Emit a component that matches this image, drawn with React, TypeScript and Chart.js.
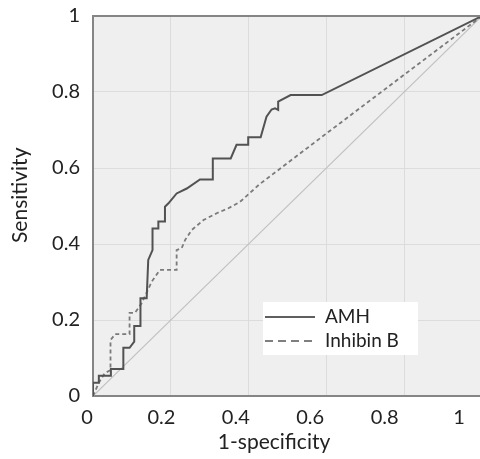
import React, { useEffect, useRef } from "react";
import { Chart, registerables } from "chart.js";

Chart.register(...registerables);

// ROC curve points: false positive rate (1-specificity) and sensitivity
const amhFpr = [0, 0, 0.015, 0.015, 0.046, 0.046, 0.078, 0.078, 0.094, 0.106, 0.106, 0.122, 0.122, 0.138, 0.142, 0.153, 0.153, 0.168, 0.168, 0.185, 0.185, 0.194, 0.215, 0.241, 0.275, 0.308, 0.308, 0.354, 0.369, 0.399, 0.399, 0.431, 0.446, 0.459, 0.468, 0.476, 0.476, 0.508, 0.588, 1];
const amhSens = [0, 0.035, 0.035, 0.053, 0.053, 0.071, 0.071, 0.127, 0.127, 0.143, 0.184, 0.184, 0.257, 0.257, 0.358, 0.384, 0.441, 0.441, 0.459, 0.459, 0.498, 0.507, 0.533, 0.546, 0.57, 0.57, 0.625, 0.625, 0.661, 0.661, 0.681, 0.681, 0.735, 0.754, 0.757, 0.753, 0.775, 0.792, 0.792, 1];

const inhFpr = [0, 0.015, 0.03, 0.045, 0.045, 0.057, 0.094, 0.094, 0.108, 0.125, 0.151, 0.172, 0.215, 0.215, 0.228, 0.237, 0.254, 0.284, 0.318, 0.348, 0.378, 0.429, 0.635, 1];
const inhSens = [0, 0.035, 0.06, 0.068, 0.147, 0.163, 0.163, 0.219, 0.219, 0.244, 0.301, 0.332, 0.332, 0.384, 0.389, 0.411, 0.437, 0.463, 0.481, 0.494, 0.511, 0.558, 0.718, 1];

const refFpr = [0, 1];
const refSens = [0, 1];

const seriesLabels = ["AMH", "Inhibin B"];
const tickValues = [0, 0.2, 0.4, 0.6, 0.8, 1];
const xTitle = "1-specificity";
const yTitle = "Sensitivity";

const FONT = "Lato";
const TEXT = "#222222";

const toPoints = (xs: number[], ys: number[]) => xs.map((x, i) => ({ x, y: ys[i] }));
const fmt = (v: number) => (Math.round(v * 10) / 10).toString();

const bgPlugin = {
  id: "plotBg",
  beforeDraw(chart: any) {
    const { ctx, chartArea: a } = chart;
    ctx.save();
    ctx.fillStyle = "#efefef";
    ctx.fillRect(a.left, a.top, a.right - a.left, a.bottom - a.top);
    ctx.restore();
  },
  afterDraw(chart: any) {
    const { ctx, chartArea: a } = chart;
    ctx.save();
    ctx.strokeStyle = "#858585";
    ctx.lineWidth = 2;
    ctx.beginPath();
    ctx.moveTo(a.left - 1, a.top);
    ctx.lineTo(a.right, a.top);
    ctx.stroke();
    ctx.restore();
  },
};

const legendPlugin = {
  id: "rocLegend",
  afterDatasetsDraw(chart: any) {
    const { ctx, chartArea: a } = chart;
    const bx = a.left + 170;
    const by = a.top + 286;
    ctx.save();
    ctx.fillStyle = "#ffffff";
    ctx.fillRect(bx, by, 155, 53);
    const items = chart.data.datasets.filter((d: any) => seriesLabels.includes(d.label));
    items.forEach((d: any, i: number) => {
      const cy = by + 15 + i * 24;
      ctx.strokeStyle = i === 0 ? "#2a2a2a" : "#555555";
      ctx.lineWidth = 1.6;
      ctx.setLineDash(i === 0 ? [] : [8, 5]);
      ctx.beginPath();
      ctx.moveTo(bx + 2, cy);
      ctx.lineTo(bx + 52, cy);
      ctx.stroke();
      ctx.setLineDash([]);
      ctx.fillStyle = TEXT;
      ctx.font = `19px ${FONT}`;
      ctx.textBaseline = "middle";
      ctx.textAlign = "left";
      ctx.fillText(d.label, bx + 62, cy);
    });
    ctx.restore();
  },
};

export default function App() {
  const ref = useRef<HTMLCanvasElement | null>(null);

  useEffect(() => {
    if (!ref.current) return;
    const setTicks = (axis: any) => {
      axis.ticks = tickValues.map((v) => ({ value: v }));
    };
    const chart = new Chart(ref.current, {
      type: "line",
      data: {
        datasets: [
          {
            label: seriesLabels[0],
            data: toPoints(amhFpr, amhSens),
            borderColor: "#525252",
            borderWidth: 2,
            pointRadius: 0,
            tension: 0,
            fill: false,
          },
          {
            label: seriesLabels[1],
            data: toPoints(inhFpr, inhSens),
            borderColor: "#7a7a7a",
            borderWidth: 1.8,
            borderDash: [4, 3],
            pointRadius: 0,
            tension: 0,
            fill: false,
          },
          {
            label: "reference",
            data: toPoints(refFpr, refSens),
            borderColor: "#c0c0c0",
            borderWidth: 1.2,
            pointRadius: 0,
            tension: 0,
            fill: false,
          },
        ],
      },
      options: {
        responsive: false,
        animation: false,
        layout: { padding: { left: 8, top: 16, right: 8, bottom: 0 } },
        plugins: {
          legend: { display: false },
          tooltip: { enabled: false },
        },
        scales: {
          x: {
            type: "linear",
            position: "bottom",
            weight: 0,
            min: 0,
            max: 1,
            afterBuildTicks: setTicks,
            afterFit: (a: any) => {
              a.height = 0;
              a.paddingLeft = 0;
              a.paddingRight = 0;
            },
            grid: { color: "#dcdcdc", lineWidth: 1, drawTicks: false },
            border: { display: true, color: "#858585", width: 2 },
            ticks: { display: false },
          },
          x2: {
            type: "linear",
            position: "bottom",
            weight: 1,
            min: 0.01613,
            max: 1.06183,
            afterBuildTicks: setTicks,
            afterFit: (a: any) => {
              a.height = 63;
              a.paddingLeft = 0;
              a.paddingRight = 0;
            },
            grid: { display: false, drawTicks: false },
            border: { display: false },
            ticks: {
              autoSkip: false,
              maxRotation: 0,
              padding: 10,
              color: TEXT,
              font: { family: FONT, size: 20 },
              callback: (v: any) => fmt(Number(v)),
            },
            title: {
              display: true,
              text: xTitle + "     ",
              color: TEXT,
              font: { family: FONT, size: 21 },
              padding: { top: 0, bottom: 4 },
            },
          },
          y: {
            type: "linear",
            min: 0,
            max: 1,
            afterBuildTicks: setTicks,
            afterFit: (a: any) => {
              a.width = 85;
              a.paddingTop = 0;
              a.paddingBottom = 0;
            },
            grid: { color: "#dcdcdc", lineWidth: 1, drawTicks: false },
            border: { display: true, color: "#858585", width: 2 },
            ticks: {
              padding: 13,
              color: TEXT,
              font: { family: FONT, size: 20 },
              callback: (v: any) => fmt(Number(v)),
            },
            title: {
              display: true,
              text: "    " + yTitle,
              color: TEXT,
              font: { family: FONT, size: 21 },
              padding: { top: 0, bottom: 0 },
            },
          },
        },
      },
      plugins: [bgPlugin, legendPlugin],
    });
    return () => chart.destroy();
  }, []);

  return (
    <div style={{ position: "fixed", left: 0, top: 0, width: 490, height: 459 }}>
      <canvas ref={ref} width={490} height={459} />
    </div>
  );
}
